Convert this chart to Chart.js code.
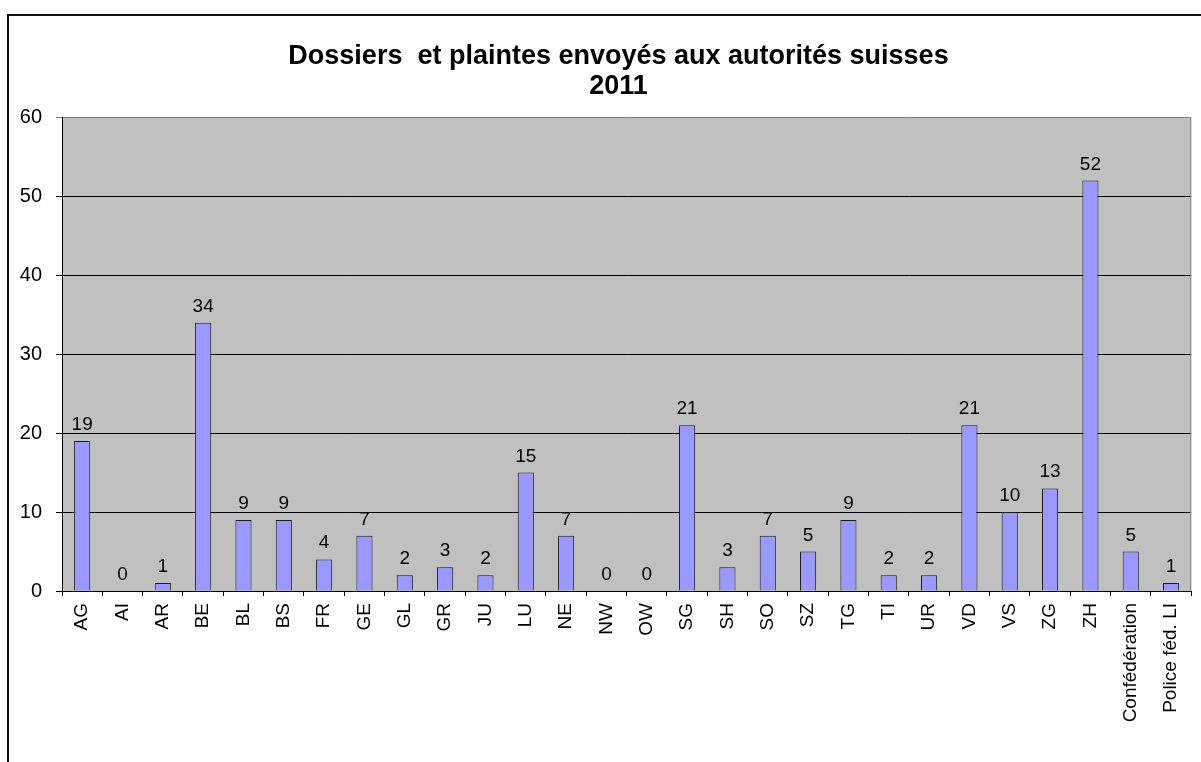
<!DOCTYPE html>
<html>
<head>
<meta charset="utf-8">
<title>Dossiers et plaintes envoyés aux autorités suisses 2011</title>
<script src="https://cdn.jsdelivr.net/npm/chart.js@4/dist/chart.umd.min.js"></script>
<style>
  html, body { margin: 0; padding: 0; background: #ffffff; overflow: hidden; }
  #frame {
    position: absolute; left: 7px; top: 14px; width: 1220px; height: 780px;
    border: 2px solid #111; box-shadow: 1px 1px 0 #999;
  }
  #chart { position: absolute; left: 0; top: 0; }
</style>
</head>
<body>
<div id="frame"></div>
<canvas id="chart" width="1201" height="762"></canvas>
<script>
// Chart data
const categories = ["AG", "AI", "AR", "BE", "BL", "BS", "FR", "GE", "GL", "GR", "JU", "LU", "NE", "NW",
  "OW", "SG", "SH", "SO", "SZ", "TG", "TI", "UR", "VD", "VS", "ZG", "ZH", "Confédération", "Police féd. LI"]
const dossiers = [19, 0, 1, 34, 9, 9, 4, 7, 2, 3, 2, 15, 7, 0, 0, 21, 3, 7, 5, 9, 2, 2, 21, 10, 13, 52, 5, 1]
const yTicks = [0, 10, 20, 30, 40, 50, 60]
const titleLines = ["Dossiers  et plaintes envoyés aux autorités suisses", "2011"]

const FONT = "'Liberation Sans', Arial, sans-serif"

// Gray plot area + right border, title nudged right like the original
const plotArea = {
  id: "plotArea",
  afterLayout: (chart) => {
    const t = chart.titleBlock
    if (t) {
      t.left += 22
      t.right += 22
    }
  },
  beforeDraw: (chart) => {
    const a = chart.chartArea
    const ctx = chart.ctx
    ctx.save()
    ctx.fillStyle = "#c0c0c0"
    ctx.fillRect(a.left, a.top, a.right - a.left, a.bottom - a.top)
    ctx.restore()
  },
  beforeDatasetsDraw: (chart) => {
    const a = chart.chartArea
    const ctx = chart.ctx
    ctx.save()
    ctx.strokeStyle = "#808080"
    ctx.lineWidth = 1
    ctx.beginPath()
    ctx.moveTo(a.right - 0.5, a.top)
    ctx.lineTo(a.right - 0.5, a.bottom)
    ctx.stroke()
    ctx.restore()
  },
}

// Value labels above the bars
const valueLabels = {
  id: "valueLabels",
  afterDatasetsDraw: (chart) => {
    const ctx = chart.ctx
    const meta = chart.getDatasetMeta(0)
    ctx.save()
    ctx.font = "19px " + FONT
    ctx.fillStyle = "#000"
    ctx.textAlign = "center"
    ctx.textBaseline = "alphabetic"
    meta.data.forEach((bar, i) => {
      ctx.fillText(String(dossiers[i]), bar.x, bar.y - 11)
    })
    ctx.restore()
  },
}

new Chart(document.getElementById("chart"), {
  type: "bar",
  data: {
    labels: categories,
    datasets: [
      {
        data: dossiers,
        backgroundColor: "#9999ff",
        borderColor: "#1a1a1a",
        borderWidth: (c) => (c.raw ? 1 : 0),
        borderSkipped: "bottom",
        categoryPercentage: 1,
        barPercentage: 0.4,
      },
    ],
  },
  options: {
    responsive: false,
    animation: false,
    devicePixelRatio: 1,
    layout: {
      padding: { left: 0, right: 8, top: 0, bottom: 0 },
    },
    plugins: {
      legend: { display: false },
      tooltip: { enabled: false },
      title: {
        display: true,
        text: titleLines,
        color: "#000",
        font: { family: FONT, size: 27, weight: "bold", lineHeight: 1.1 },
        padding: { top: 42, bottom: 16 },
      },
    },
    scales: {
      x: {
        offset: true,
        afterFit: (scale) => {
          scale.height = 171
        },
        grid: {
          offset: true,
          drawOnChartArea: false,
          drawTicks: true,
          tickLength: 5,
          color: "#000",
        },
        border: { color: "#000", width: 1 },
        ticks: {
          minRotation: 90,
          maxRotation: 90,
          autoSkip: false,
          padding: 7,
          color: "#000",
          font: { family: FONT, size: 19 },
        },
      },
      y: {
        min: 0,
        max: 60,
        afterFit: (scale) => {
          scale.width = 62
        },
        afterBuildTicks: (scale) => {
          scale.ticks = yTicks.map((v) => ({ value: v }))
        },
        grid: {
          color: (c) => (c.tick && c.tick.value === 60 ? "#808080" : "#000"),
          tickLength: 6,
        },
        border: { color: "#000", width: 1 },
        ticks: {
          padding: 14,
          color: "#000",
          font: { family: FONT, size: 20 },
        },
      },
    },
  },
  plugins: [plotArea, valueLabels],
})
</script>
</body>
</html>
